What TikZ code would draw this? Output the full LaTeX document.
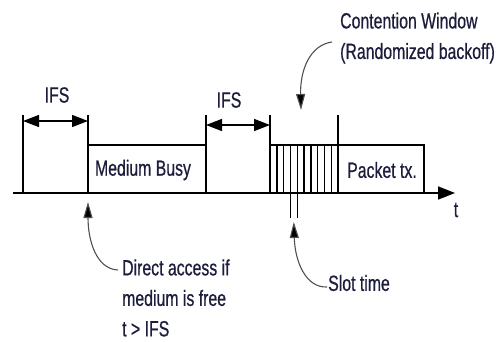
\documentclass[tikz,border=0pt]{standalone}
\usepackage{fontspec}
\setmainfont{Liberation Sans}[FakeStretch=0.72,FakeBold=0.6]
\usepackage{xcolor}
\usepackage{tikz}
\usetikzlibrary{arrows.meta,positioning,calc}

\definecolor{inkblue}{RGB}{28,28,60}
\definecolor{leadgray}{RGB}{80,80,80}

\begin{document}
\begin{tikzpicture}[
    x=1pt, y=-1pt,
    lbl/.style={text=inkblue, font=\fontsize{22}{30.5}\selectfont, inner sep=0pt},
    tline/.style={line width=1.4pt},
    span/.style={line width=1.4pt, {Triangle[length=16pt,width=12pt]}-{Triangle[length=16pt,width=12pt]}},
    lead/.style={draw=leadgray, line width=1.1pt, -{Triangle[length=16pt,width=9pt,fill=black]}}
]
    \useasboundingbox (0,0) rectangle (497,342);

    % time points
    \coordinate (t0) at (23,193);
    \coordinate (t1) at (88,193);
    \coordinate (t2) at (206,193);
    \coordinate (t3) at (270,193);
    \coordinate (t4) at (338,193);
    \coordinate (t5) at (424,193);

    % time axis
    \draw[line width=1.7pt, -{Triangle[length=17pt,width=13pt]}] (13,193) -- (455,193);
    \node[lbl] (tlab) at (456,210) {t};

    % markers
    \foreach \p in {t0,t1,t2,t3,t4}
        \draw[tline] (\p) -- ++(0,-78);

    % busy medium
    \draw[tline] ($(t1)+(0,-48)$) -- ($(t2)+(0,-48)$);
    \node[lbl] (busy) at (143,170) {Medium Busy};

    % contention window + packet
    \draw[tline] ($(t3)+(0,-48)$) -- ($(t5)+(0,-48)$) -- (t5);
    \foreach \k in {1,...,9}
        \draw[tline] ($(t3)+(\k*6.8,-48)$) -- ($(t3)+(\k*6.8,0)$);
    \draw[tline] ($(t3)+(3*6.8,0)$) -- ++(0,25);
    \draw[tline] ($(t3)+(4*6.8,0)$) -- ++(0,25);
    \coordinate (slot) at ($(t3)+(3.5*6.8,29)$);
    \node[lbl] (packet) at (382,170) {Packet tx.};

    % IFS spans
    \draw[span] (23,121) -- (88,121);
    \node[lbl] (ifsa) at (57,95) {IFS};
    \draw[span] (206,125) -- (270,125);
    \node[lbl] (ifsb) at (229,100) {IFS};

    % annotations
    \node[lbl, align=left, anchor=west] (cw) at (340,38) {Contention Window\\(Randomized backoff)};
    \coordinate (cwtip) at (301,110);
    \draw[lead] ([xshift=-8pt,yshift=-4pt]cw.west) .. controls (310,45) and (300,70) .. (cwtip);

    \node[lbl, align=left, anchor=west] (direct) at (122,298) {Direct access if\\medium is free\\t > IFS};
    \coordinate (dtip) at (88,202);
    \draw[lead] ([xshift=-4pt,yshift=28pt]direct.west) .. controls (96,269) and (88,240) .. (dtip);

    \node[lbl, anchor=west] (slotlab) at (328,283) {Slot time};
    \draw[lead] ([xshift=-1pt,yshift=-4pt]slotlab.west) .. controls (306,288) and (295,262) .. (slot);
\end{tikzpicture}
\end{document}
